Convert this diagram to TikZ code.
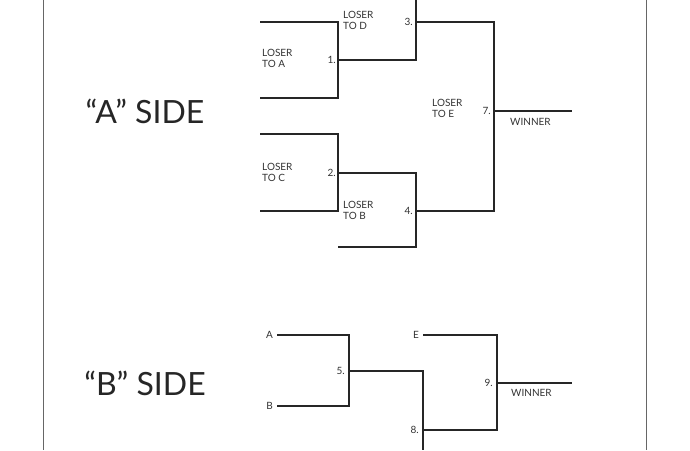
\documentclass[tikz,border=0pt]{standalone}
\usepackage{fontspec}
\setmainfont{Lato}
\begin{document}
\begin{tikzpicture}[x=1pt,y=-1pt,
  br/.style={line width=2pt,color=black!85},
  lab/.style={font=\fontsize{10}{11}\selectfont,text=black!80,align=left,inner sep=0pt},
  num/.style={font=\fontsize{10}{11}\selectfont,text=black!80,inner sep=0pt,anchor=east},
  side/.style={font=\fontsize{32}{34}\selectfont,text=black!85,inner sep=0pt}]
\useasboundingbox (0,0) rectangle (690,450);
\draw[black!60,line width=1pt] (43,0) -- (43,450) (646,0) -- (646,450);
% A side
\node[side] (sa) at (145,111) {“A” SIDE};
\draw[br] (260,22) -- (338,22) -- (338,98) -- (260,98);
\draw[br] (338,60) -- (416,60) -- (416,0);
\draw[br] (416,22) -- (494,22) -- (494,211) -- (416,211);
\draw[br] (260,134) -- (338,134) -- (338,211) -- (260,211);
\draw[br] (338,173) -- (416,173) -- (416,247) -- (338,247);
\draw[br] (494,111) -- (572,111);
\node[lab,anchor=north west] (la) at (262,49) {LOSER\\TO A};
\node[lab,anchor=north west] (ld) at (343,11) {LOSER\\TO D};
\node[lab,anchor=north west] (lc) at (262,163) {LOSER\\TO C};
\node[lab,anchor=north west] (lb) at (343,201) {LOSER\\TO B};
\node[lab,anchor=north west] (le) at (432,99) {LOSER\\TO E};
\node[num] (n1) at (336,60) {1.};
\node[num] (n2) at (336,173) {2.};
\node[num] (n3) at (413,22) {3.};
\node[num] (n4) at (413,211) {4.};
\node[num] (n7) at (491,111) {7.};
\node[lab,anchor=west] (w1) at (510,122) {WINNER};
% B side
\node[side] (sb) at (145,383) {“B” SIDE};
\draw[br] (277,335) -- (349,335) -- (349,406) -- (277,406);
\draw[br] (349,371) -- (423,371) -- (423,450);
\draw[br] (423,335) -- (497,335) -- (497,430) -- (423,430);
\draw[br] (497,383) -- (572,383);
\node[lab,anchor=east] (a) at (273,335) {A};
\node[lab,anchor=east] (b) at (273,406) {B};
\node[lab,anchor=east] (e) at (419,335) {E};
\node[num] (n5) at (345,371) {5.};
\node[num] (n8) at (419,430) {8.};
\node[num] (n9) at (493,383) {9.};
\node[lab,anchor=west] (w2) at (511,393) {WINNER};
\end{tikzpicture}
\end{document}
